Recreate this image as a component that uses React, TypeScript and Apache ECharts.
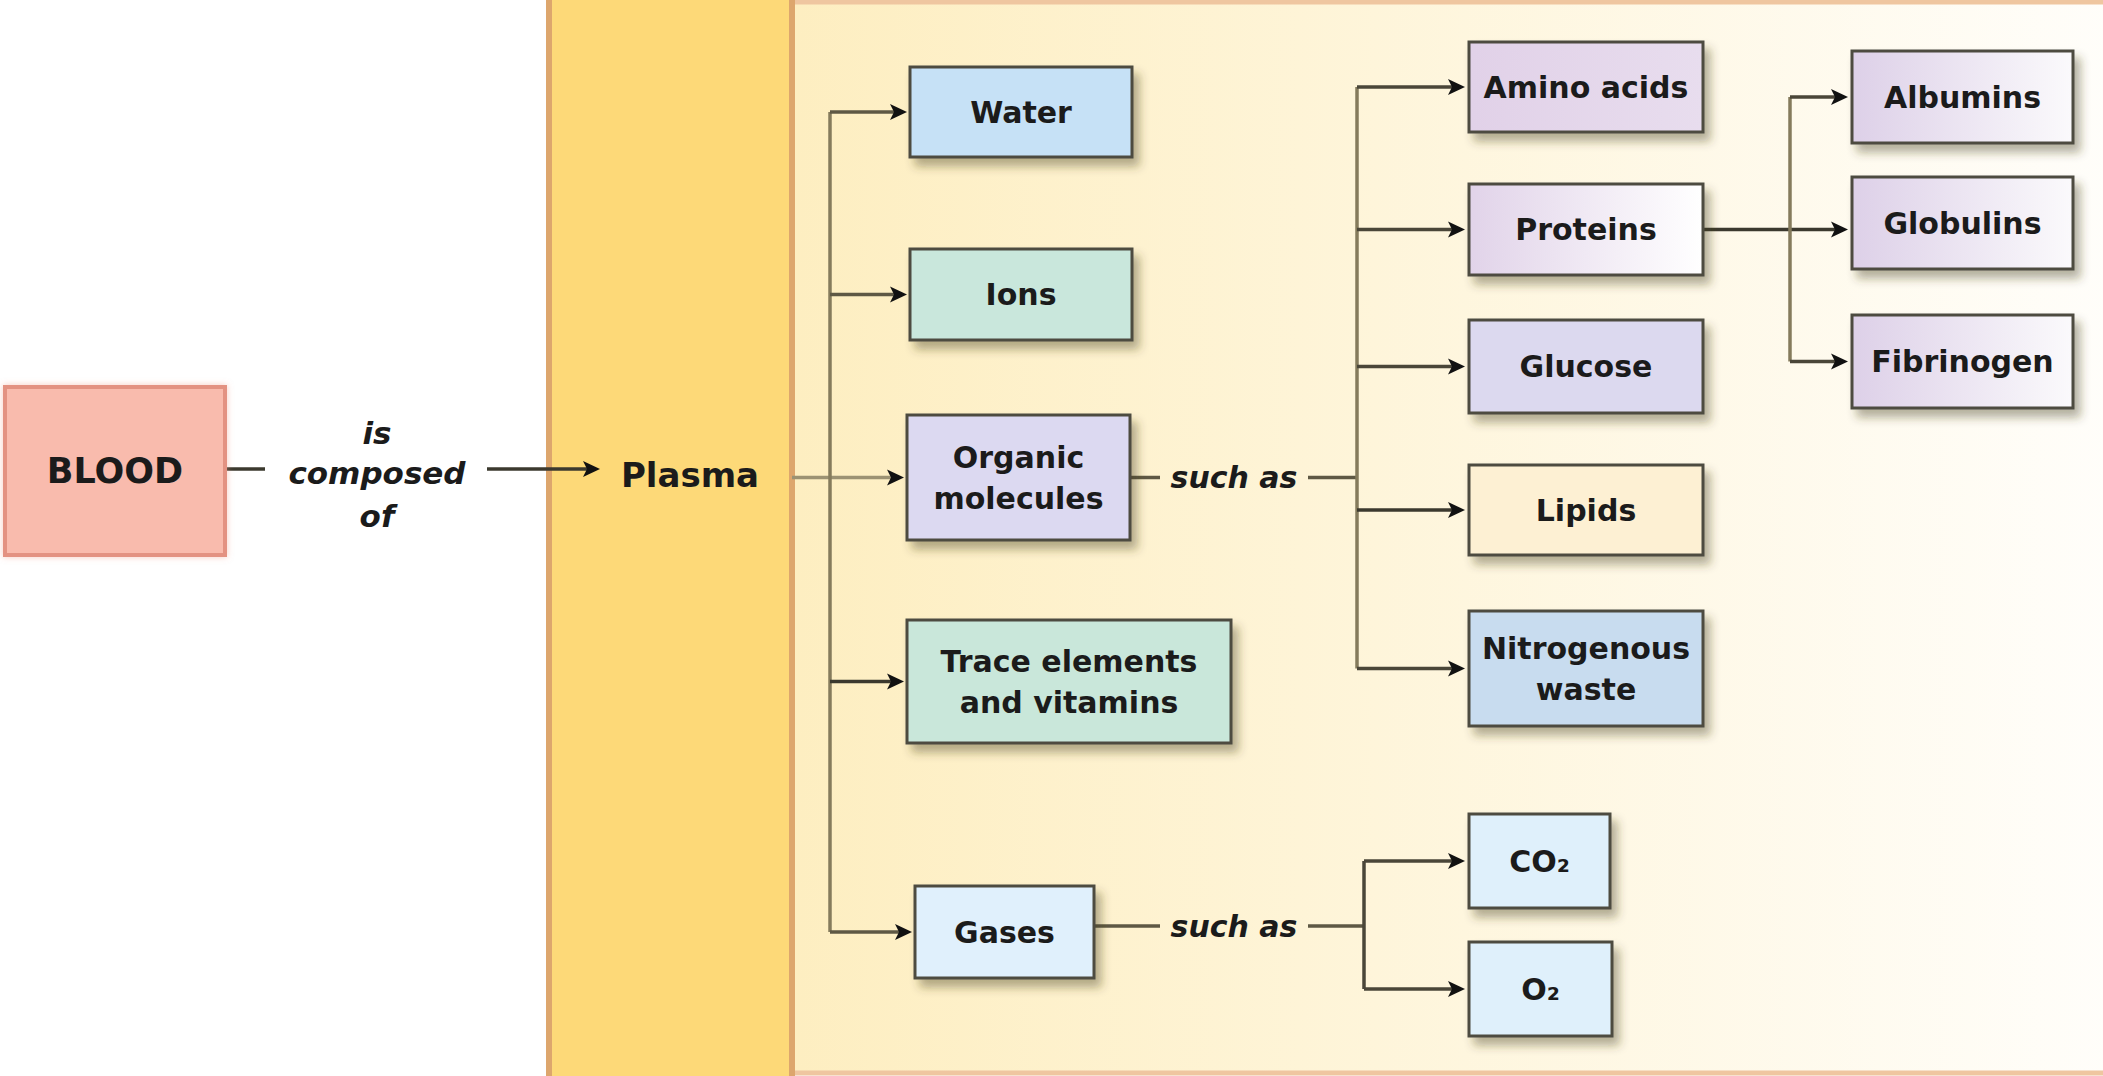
import React, { useEffect, useRef } from "react";
import * as echarts from "echarts";

// ---------- content ----------
const rootLabel = "BLOOD";
const relationLines = ["is", "composed", "of"];
const plasmaLabel = "Plasma";
const plasmaComponents = ["Water", "Ions", "Organic\nmolecules", "Trace elements\nand vitamins", "Gases"];
const organicExamples = ["Amino acids", "Proteins", "Glucose", "Lipids", "Nitrogenous\nwaste"];
const plasmaProteins = ["Albumins", "Globulins", "Fibrinogen"];
const gasExamples = ["CO₂", "O₂"];
const exampleLabel = "such as";

// ---------- layout (diagram units) ----------
const W = 2103;
const H = 1076;
const rootBox = [5, 387, 225, 555];
const plasmaColumn = [549, -6, 792, 1082];
const contentPanel = [549, 2, 2130, 1073];
const componentBoxes = [
  [910, 67, 1132, 157],
  [910, 249, 1132, 340],
  [907, 415, 1130, 540],
  [907, 620, 1231, 743],
  [915, 886, 1094, 978],
];
const organicBoxes = [
  [1469, 42, 1703, 132],
  [1469, 184, 1703, 275],
  [1469, 320, 1703, 413],
  [1469, 465, 1703, 555],
  [1469, 611, 1703, 726],
];
const proteinBoxes = [
  [1852, 51, 2073, 143],
  [1852, 177, 2073, 269],
  [1852, 315, 2073, 408],
];
const gasBoxes = [
  [1469, 814, 1610, 908],
  [1469, 942, 1612, 1036],
];
const trunkX = { plasma: 830, organic: 1357, protein: 1790, gas: 1364 };
const exampleTextX = 1234;
const relationY = [433, 473, 516];
const relationX = 377;
const plasmaTextPos = [690, 475];

// ---------- styles ----------
const FONT = "'DejaVu Sans', 'Liberation Sans', sans-serif";
const lin = (a: string, b: string) => ({
  type: "linear", x: 0, y: 0, x2: 1, y2: 0,
  colorStops: [{ offset: 0, color: a }, { offset: 1, color: b }],
});
const componentFills: any[] = ["#c6e1f6", "#c9e7dc", "#dcd9f1", "#c9e7da", "#e0f0fc"];
const organicFills: any[] = [
  lin("#e1d1e8", "#e8ddee"),
  lin("#e1d3e9", "#ffffff"),
  "#dcd9ef",
  "#fdf0d3",
  "#c8dcef",
];
const proteinFills: any[] = [
  lin("#ddd0e8", "#fbfafc"),
  lin("#ddd0e8", "#fbfafc"),
  lin("#ddd0e8", "#fbfafc"),
];
const gasFills: any[] = ["#dff0fb", "#dff0fb"];
const DARK = "#3b392e";
const OLIVE = "#857b5c";

type Box = { r: number[]; label: string; fill: any; size: number; root?: boolean };

const cy = (r: number[]) => (r[1] + r[3]) / 2;

export default function App() {
  const ref = useRef<HTMLDivElement>(null);
  useEffect(() => {
    document.body.style.margin = "0";
    if (!ref.current) return;
    const chart = echarts.init(ref.current, undefined, { renderer: "svg" });

    const boxes: Box[] = [];
    boxes.push({ r: rootBox, label: rootLabel, fill: "#f9bbad", size: 35, root: true });
    plasmaComponents.forEach((l, i) => boxes.push({ r: componentBoxes[i], label: l, fill: componentFills[i], size: 30 }));
    organicExamples.forEach((l, i) => boxes.push({ r: organicBoxes[i], label: l, fill: organicFills[i], size: 30 }));
    plasmaProteins.forEach((l, i) => boxes.push({ r: proteinBoxes[i], label: l, fill: proteinFills[i], size: 30 }));
    gasExamples.forEach((l, i) => boxes.push({ r: gasBoxes[i], label: l, fill: gasFills[i], size: 30 }));

    // connectors: x1,y1,x2,y2,arrow,colour
    const segs: any[] = [];
    const seg = (x1: number, y1: number, x2: number, y2: number, arrow: number, c: string) =>
      segs.push({ value: [x1, y1, x2, y2, arrow], c });
    const rootY = cy(rootBox) - 2;
    seg(rootBox[2], rootY, 265, rootY, 0, DARK);
    seg(487, rootY, 600, rootY, 1, DARK);
    // plasma components
    const org = componentBoxes[2];
    seg(plasmaColumn[2], cy(org), org[0] - 3, cy(org), 1, "#9c9273");
    seg(trunkX.plasma, cy(componentBoxes[0]), trunkX.plasma, cy(componentBoxes[4]), 0, OLIVE);
    [0, 1, 3, 4].forEach((i) => {
      const b = componentBoxes[i];
      seg(trunkX.plasma, cy(b), b[0] - 3, cy(b), 1, i === 3 ? DARK : "#5e5844");
    });
    // organic such as
    seg(org[2], cy(org), 1160, cy(org), 0, "#5e5844");
    seg(1308, cy(org), trunkX.organic, cy(org), 0, "#5e5844");
    seg(trunkX.organic, cy(organicBoxes[0]), trunkX.organic, cy(organicBoxes[4]), 0, OLIVE);
    organicBoxes.forEach((b, i) => seg(trunkX.organic, cy(b), b[0] - 4, cy(b), 1, i === 3 ? DARK : "#4a4638"));
    // proteins
    const pr = organicBoxes[1];
    seg(pr[2], cy(pr), proteinBoxes[1][0] - 4, cy(pr), 1, DARK);
    seg(trunkX.protein, cy(proteinBoxes[0]), trunkX.protein, cy(proteinBoxes[2]), 0, OLIVE);
    [0, 2].forEach((i) => {
      const b = proteinBoxes[i];
      seg(trunkX.protein, cy(b), b[0] - 4, cy(b), 1, "#4a4638");
    });
    // gases
    const gs = componentBoxes[4];
    const gy = cy(gs) - 6;
    seg(gs[2], gy, 1160, gy, 0, "#5e5844");
    seg(1308, gy, trunkX.gas, gy, 0, "#5e5844");
    seg(trunkX.gas, cy(gasBoxes[0]), trunkX.gas, cy(gasBoxes[1]), 0, "#4a4638");
    gasBoxes.forEach((b) => seg(trunkX.gas, cy(b), b[0] - 4, cy(b), 1, "#4a4638"));

    // free texts
    const texts: any[] = [];
    relationLines.forEach((t, i) => texts.push({ value: [relationX, relationY[i]], t, s: 31, it: true }));
    texts.push({ value: plasmaTextPos, t: plasmaLabel, s: 34, it: false });
    texts.push({ value: [exampleTextX, cy(org)], t: exampleLabel, s: 30, it: true });
    texts.push({ value: [exampleTextX, gy], t: exampleLabel, s: 30, it: true });

    const rectOf = (api: any) => {
      const p0 = api.coord([api.value(0), api.value(1)]);
      const p1 = api.coord([api.value(2), api.value(3)]);
      return { x: p0[0], y: p0[1], width: p1[0] - p0[0], height: p1[1] - p0[1] };
    };

    chart.setOption({
      animation: false,
      grid: { left: 0, right: 0, top: 0, bottom: 0 },
      xAxis: { type: "value", min: 0, max: W, show: false },
      yAxis: { type: "value", min: 0, max: H, inverse: true, show: false },
      series: [
        {
          type: "custom",
          z: 1,
          clip: false,
          encode: { x: [0, 2], y: [1, 3] },
          data: [
            { value: contentPanel, kind: 0 },
            { value: plasmaColumn, kind: 1 },
          ],
          renderItem: (params: any, api: any) => {
            const sh = rectOf(api);
            if (params.dataIndex === 0) {
              return {
                type: "rect",
                shape: sh,
                style: { fill: lin("#fdebb6", "#fffefb"), stroke: "#efc6a0", lineWidth: 5 },
              };
            }
            return {
              type: "rect",
              shape: sh,
              style: { fill: "#fdd978", stroke: "#dda66d", lineWidth: 6 },
            };
          },
        },
        {
          type: "custom",
          z: 2,
          clip: false,
          encode: { x: [0, 2], y: [1, 3] },
          data: segs,
          renderItem: (params: any, api: any) => {
            const a = api.coord([api.value(0), api.value(1)]);
            const b = api.coord([api.value(2), api.value(3)]);
            const s = segs[params.dataIndex];
            const children: any[] = [];
            const arrow = api.value(4) === 1;
            const endX = arrow ? b[0] - 10 : b[0];
            children.push({
              type: "line",
              shape: { x1: a[0], y1: a[1], x2: endX, y2: b[1] },
              style: { stroke: s.c, lineWidth: 3.5 },
            });
            if (arrow) {
              children.push({
                type: "polygon",
                shape: { points: [[b[0], b[1]], [b[0] - 17, b[1] - 8], [b[0] - 13, b[1]], [b[0] - 17, b[1] + 8]] },
                style: { fill: "#111" },
              });
            }
            return { type: "group", children };
          },
        },
        {
          type: "custom",
          z: 3,
          clip: false,
          encode: { x: [0, 2], y: [1, 3] },
          data: boxes.map((b) => b.r),
          renderItem: (params: any, api: any) => {
            const b = boxes[params.dataIndex];
            const sh = rectOf(api);
            const style: any = b.root
              ? { fill: b.fill, stroke: "#e39282", lineWidth: 4, shadowBlur: 6, shadowColor: "rgba(240,150,130,0.5)" }
              : {
                  fill: b.fill, stroke: "#4d4b40", lineWidth: 3,
                  shadowBlur: 10, shadowOffsetX: 6, shadowOffsetY: 8, shadowColor: "rgba(70,60,30,0.4)",
                };
            return {
              type: "group",
              children: [
                { type: "rect", shape: sh, style },
                {
                  type: "text",
                  style: {
                    text: b.label,
                    x: sh.x + sh.width / 2,
                    y: sh.y + sh.height / 2,
                    align: "center",
                    verticalAlign: "middle",
                    fontFamily: FONT,
                    fontSize: b.size,
                    fontWeight: "bold",
                    lineHeight: 41,
                    fill: "#1b1b1b",
                  },
                },
              ],
            };
          },
        },
        {
          type: "custom",
          z: 4,
          clip: false,
          encode: { x: 0, y: 1 },
          data: texts,
          renderItem: (params: any, api: any) => {
            const t = texts[params.dataIndex];
            const p = api.coord([api.value(0), api.value(1)]);
            return {
              type: "text",
              style: {
                text: t.t,
                x: p[0],
                y: p[1],
                align: "center",
                verticalAlign: "middle",
                fontFamily: FONT,
                fontSize: t.s,
                fontWeight: "bold",
                fontStyle: t.it ? "italic" : "normal",
                fill: "#1b1b1b",
              },
            };
          },
        },
      ],
    });
    return () => chart.dispose();
  }, []);
  return <div ref={ref} style={{ width: W, height: H }} />;
}
